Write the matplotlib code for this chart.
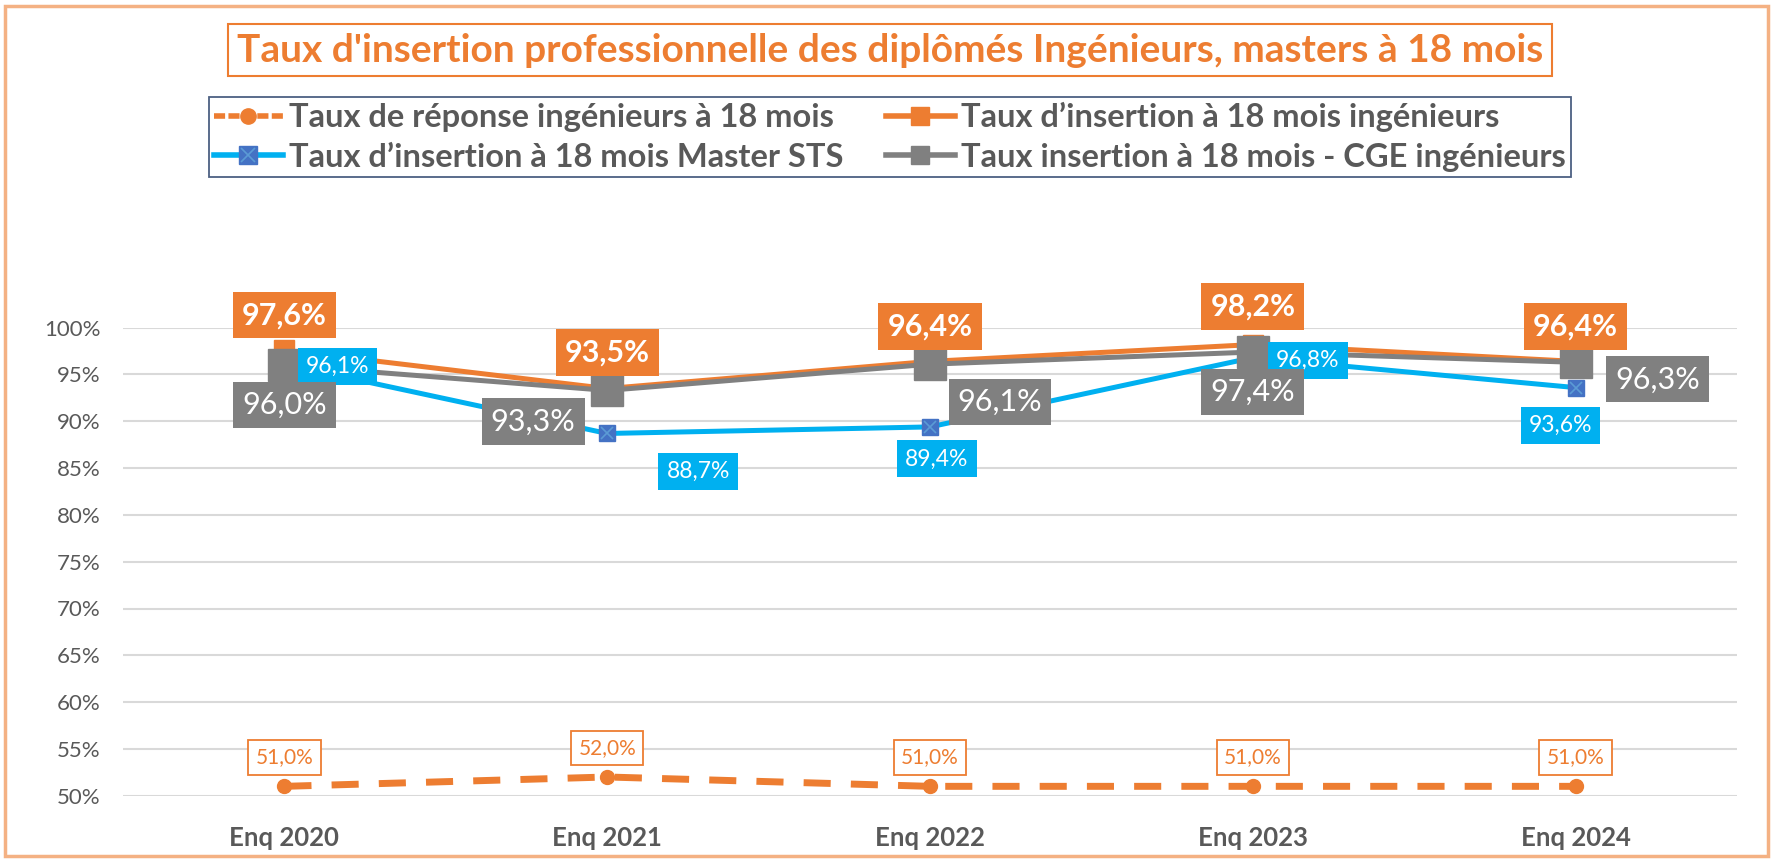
import matplotlib.pyplot as plt
from matplotlib.lines import Line2D
from matplotlib.patches import Rectangle

plt.rcParams['font.family'] = ['Lato', 'DejaVu Sans']

# data (in %)
enquetes = ['Enq 2020', 'Enq 2021', 'Enq 2022', 'Enq 2023', 'Enq 2024']
reponse_ing = [51.0, 52.0, 51.0, 51.0, 51.0]
insertion_ing = [97.6, 93.5, 96.4, 98.2, 96.4]
insertion_sts = [96.1, 88.7, 89.4, 96.8, 93.6]
insertion_cge = [96.0, 93.3, 96.1, 97.4, 96.3]
y_ticks = [50, 55, 60, 65, 70, 75, 80, 85, 90, 95, 100]

titre = "Taux d'insertion professionnelle des diplômés Ingénieurs, masters à 18 mois"
noms = ['Taux de réponse ingénieurs à 18 mois',
        'Taux d’insertion à 18 mois ingénieurs',
        'Taux d’insertion à 18 mois Master STS',
        'Taux insertion à 18 mois - CGE ingénieurs']

# label offsets in pixels (dx, dy, y up)
off_ing = [(0, 35), (0, 36), (0, 35), (0, 38), (0, 35)]
off_cge = [(0, -40), (-74, -31), (70, -38), (0, -40), (82, -17)]
off_sts = [(53, -2), (91, -38), (7, -32), (55, -3), (-15, -38)]
off_rep = [(0, 29)] * 5

orange = '#ED7D31'
bleu = '#00B0F0'
bleu_m = '#4472C4'
gris = '#808080'
texte = '#595959'

W, H = 1775, 859
fig = plt.figure(figsize=(W / 100, H / 100), dpi=100)
ax = fig.add_axes([123 / W, 63.3 / H, (1737 - 123) / W, 468 / H])

x = list(range(len(enquetes)))

ax.plot(x, reponse_ing, color=orange, lw=5, ls=(0, (3.9, 2.9)), marker='o', ms=10,
        clip_on=False, zorder=3)
ax.plot(x, insertion_ing, color=orange, lw=3.6, marker='s', ms=14, clip_on=False, zorder=4)
ax.plot(x, insertion_sts, color=bleu, lw=3.6, clip_on=False, zorder=5)
ax.plot(x, insertion_sts, ls='none', marker='s', ms=11, mfc=bleu_m, mec=bleu_m, clip_on=False, zorder=5)
ax.plot(x, insertion_sts, ls='none', marker='x', ms=8, mec='#5B9BD5', mew=1.2, clip_on=False, zorder=5)
ax.plot(x, insertion_cge, color=gris, lw=3.6, marker='s', ms=23, clip_on=False, zorder=6)


def fmt(v):
    return f"{v:.1f}%".replace('.', ',')


def etiquettes(vals, offs, fc, ec, tc, size, weight, pad):
    for i, v in enumerate(vals):
        ax.annotate(fmt(v), (i, v), xytext=offs[i], textcoords='offset pixels',
                    ha='center', va='center', fontsize=size, color=tc, fontweight=weight,
                    bbox=dict(boxstyle=f'square,pad={pad}', fc=fc, ec=ec, lw=1.3),
                    zorder=10, annotation_clip=False)


etiquettes(reponse_ing, off_rep, 'white', orange, orange, 15, 'normal', 0.35)
etiquettes(insertion_ing, off_ing, orange, 'none', 'white', 22, 'bold', 0.3)
etiquettes(insertion_sts, off_sts, bleu, 'none', 'white', 16.5, 'normal', 0.35)
etiquettes(insertion_cge, off_cge, gris, 'none', 'white', 22, 'normal', 0.3)

ax.set_xlim(-0.5, 4.5)
ax.set_ylim(50, 100)
ax.set_yticks(y_ticks)
ax.set_yticklabels([f"{t}%" for t in y_ticks], fontsize=16, color=texte)
ax.set_xticks(x)
ax.set_xticklabels(enquetes, fontsize=18.5, fontweight='bold', color=texte)
ax.tick_params(length=0)
ax.tick_params(axis='y', pad=16)
ax.tick_params(axis='x', pad=22)
ax.grid(axis='y', color='#D9D9D9', lw=1.5)
ax.set_axisbelow(True)
for s in ax.spines.values():
    s.set_visible(False)

fig.text(890 / W, 1 - 50 / H, titre, ha='center', va='center', color=orange,
         fontsize=28, fontweight='bold',
         bbox=dict(boxstyle='square,pad=0.22', fc='white', ec=orange, lw=1.5))

poignees = [
    Line2D([], [], color=orange, lw=4, ls=(0, (2, 0.6)), marker='o', ms=11),
    (Line2D([], [], color=bleu, lw=4, marker='s', ms=13, mfc=bleu_m, mec=bleu_m),
     Line2D([], [], ls='none', marker='x', ms=10, mec='#5B9BD5', mew=1.2)),
    Line2D([], [], color=orange, lw=4, marker='s', ms=13),
    Line2D([], [], color=gris, lw=4, marker='s', ms=13),
]
leg = fig.legend(poignees, [noms[0], noms[2], noms[1], noms[3]], ncol=2, loc='center',
                 bbox_to_anchor=(890 / W, 1 - 137 / H), frameon=True, fancybox=False,
                 edgecolor='#203864', labelcolor=texte,
                 prop=dict(weight='bold', size=23.5), handlelength=2.1, handletextpad=0.2,
                 columnspacing=1.3, borderpad=0.15, labelspacing=0.32, borderaxespad=0)
leg.get_frame().set_linewidth(1.3)

fig.patches.append(Rectangle((5 / W, 3 / H), (1768 - 5) / W, (853 - 3) / H,
                             transform=fig.transFigure, fill=False, ec='#F4B183', lw=2.5))

fig.savefig('out.png', dpi=100)
